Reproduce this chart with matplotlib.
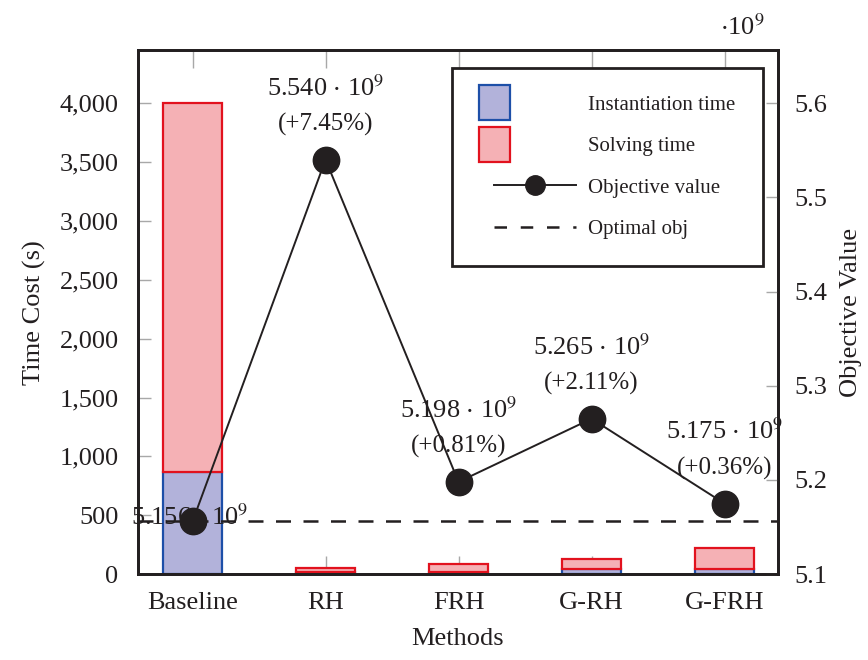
import matplotlib
matplotlib.use("Agg")
import matplotlib.pyplot as plt
from matplotlib.patches import Patch, Rectangle
from matplotlib.lines import Line2D
from matplotlib.legend_handler import HandlerPatch, HandlerLine2D
from matplotlib.ticker import FuncFormatter
import numpy as np

plt.rcParams['font.family'] = ['Liberation Serif', 'DejaVu Serif']
plt.rcParams['mathtext.fontset'] = 'stix'

methods = ['Baseline', 'RH', 'FRH', 'G-RH', 'G-FRH']
inst_time = [870, 15, 22, 45, 45]
solve_time = [3130, 40, 68, 88, 180]
obj_value = [5.156, 5.540, 5.198, 5.265, 5.175]   # x 1e9
optimal_obj = 5.156
obj_labels = ['5.156', '5.540', '5.198', '5.265', '5.175']
gap_labels = ['', '(+7.45%)', '(+0.81%)', '(+2.11%)', '(+0.36%)']
left_ticks = [0, 500, 1000, 1500, 2000, 2500, 3000, 3500, 4000]
right_ticks = [5.1, 5.2, 5.3, 5.4, 5.5, 5.6]

dark = '#231f20'
blue_fill, blue_edge = '#b2b2da', '#1d4fa8'
red_fill, red_edge = '#f5b1b5', '#e2121e'
tick_gray = '#a8a8a8'

fig = plt.figure(figsize=(8.68, 6.6), dpi=100)
ax = fig.add_axes([0.159, 0.130, 0.737, 0.794])
ax2 = ax.twinx()

x = list(range(len(methods)))
w = 0.45
ax.bar(x, inst_time, w, color=blue_fill, edgecolor=blue_edge, linewidth=1.6, zorder=2)
ax.bar(x, solve_time, w, bottom=inst_time, color=red_fill, edgecolor=red_edge, linewidth=1.6, zorder=2)

ax.set_xlim(-0.41, 4.4)
ax.set_ylim(0, 4450)
ax2.set_ylim(5.1, 5.1 + 4450 / 4000 * 0.5)

ax2.axhline(optimal_obj, color=dark, linestyle=(0, (6, 5)), linewidth=1.8, zorder=3)
ax2.plot(x, obj_value, color=dark, linewidth=1.4, marker='o', markersize=19, zorder=4)

for i in range(len(methods)):
    lab = obj_labels[i] + r' $\cdot$ 10$^{9}$'
    if gap_labels[i]:
        ax2.annotate(lab, (x[i], obj_value[i]), xytext=(0, 72), textcoords='offset pixels',
                     ha='center', va='center', fontsize=19, color=dark, zorder=5)
        ax2.annotate(gap_labels[i], (x[i], obj_value[i]), xytext=(0, 35), textcoords='offset pixels',
                     ha='center', va='center', fontsize=18, color=dark, zorder=5)
    else:
        ax2.annotate(lab, (x[i], obj_value[i]), xytext=(-3, 4), textcoords='offset pixels',
                     ha='center', va='center', fontsize=19, color=dark, zorder=3)

ax.set_xticks(x)
ax.set_xticklabels(methods)
ax.set_yticks(left_ticks)
ax.yaxis.set_major_formatter(FuncFormatter(lambda v, p: f'{int(v):,}'))
ax2.set_yticks(right_ticks)
ax2.set_yticklabels([f'{v:.1f}' for v in right_ticks])

ax.tick_params(axis='x', direction='in', length=13, width=1, color=tick_gray, top=True,
               labelsize=19, labelcolor=dark, pad=13)
ax.tick_params(axis='y', direction='in', length=9, width=1, color=tick_gray,
               labelsize=19, labelcolor=dark, pad=14)
ax2.tick_params(axis='y', direction='in', length=9, width=1, color=tick_gray,
                labelsize=19, labelcolor=dark, pad=12)

for a in (ax, ax2):
    for s in a.spines.values():
        s.set_linewidth(2)
        s.set_color(dark)

ax.set_xlabel('Methods', fontsize=19, color=dark, labelpad=10)
ax.set_ylabel('Time Cost (s)', fontsize=19, color=dark, labelpad=10)
ax2.set_ylabel('Objective Value', fontsize=19, color=dark, labelpad=9)

ax2.text(0.945, 1.045, r'$\cdot$10$^{9}$', transform=ax2.transAxes, fontsize=19,
         ha='center', va='center', color=dark)


def narrow_rect(legend, orig_handle, xdescent, ydescent, width, height, fontsize):
    return Rectangle((-xdescent, -ydescent + height / 2 - height * 1.2), width * 0.32,
                     height * 2.4)


class ShiftedLine(HandlerLine2D):
    def get_xdata(self, legend, xdescent, ydescent, width, height, fontsize):
        xdata = np.array([-xdescent + 0.155 * width, -xdescent + width])
        xmark = np.array([-xdescent + 0.58 * width])
        return xdata, xmark


handles = [
    Patch(facecolor=blue_fill, edgecolor=blue_edge, linewidth=1.6),
    Patch(facecolor=red_fill, edgecolor=red_edge, linewidth=1.6),
    Line2D([], [], color=dark, linewidth=1.4, marker='o', markersize=14),
    Line2D([], [], color=dark, linestyle=(0, (5, 5.5)), linewidth=1.8),
]
labels = ['Instantiation time', 'Solving time', 'Objective value', 'Optimal obj']
leg = ax2.legend(handles, labels, loc='upper right', bbox_to_anchor=(0.9766, 0.9656),
                 fontsize=15, frameon=True, fancybox=False, framealpha=1,
                 edgecolor=dark, handlelength=4.66, handletextpad=0.6,
                 labelspacing=1.05, borderpad=1.3, borderaxespad=0,
                 handler_map={Patch: HandlerPatch(patch_func=narrow_rect),
                              Line2D: ShiftedLine(numpoints=1)})
leg.get_frame().set_linewidth(2)
leg.set_zorder(10)
for t in leg.get_texts():
    t.set_color(dark)

fig.savefig('out.png', dpi=100)
